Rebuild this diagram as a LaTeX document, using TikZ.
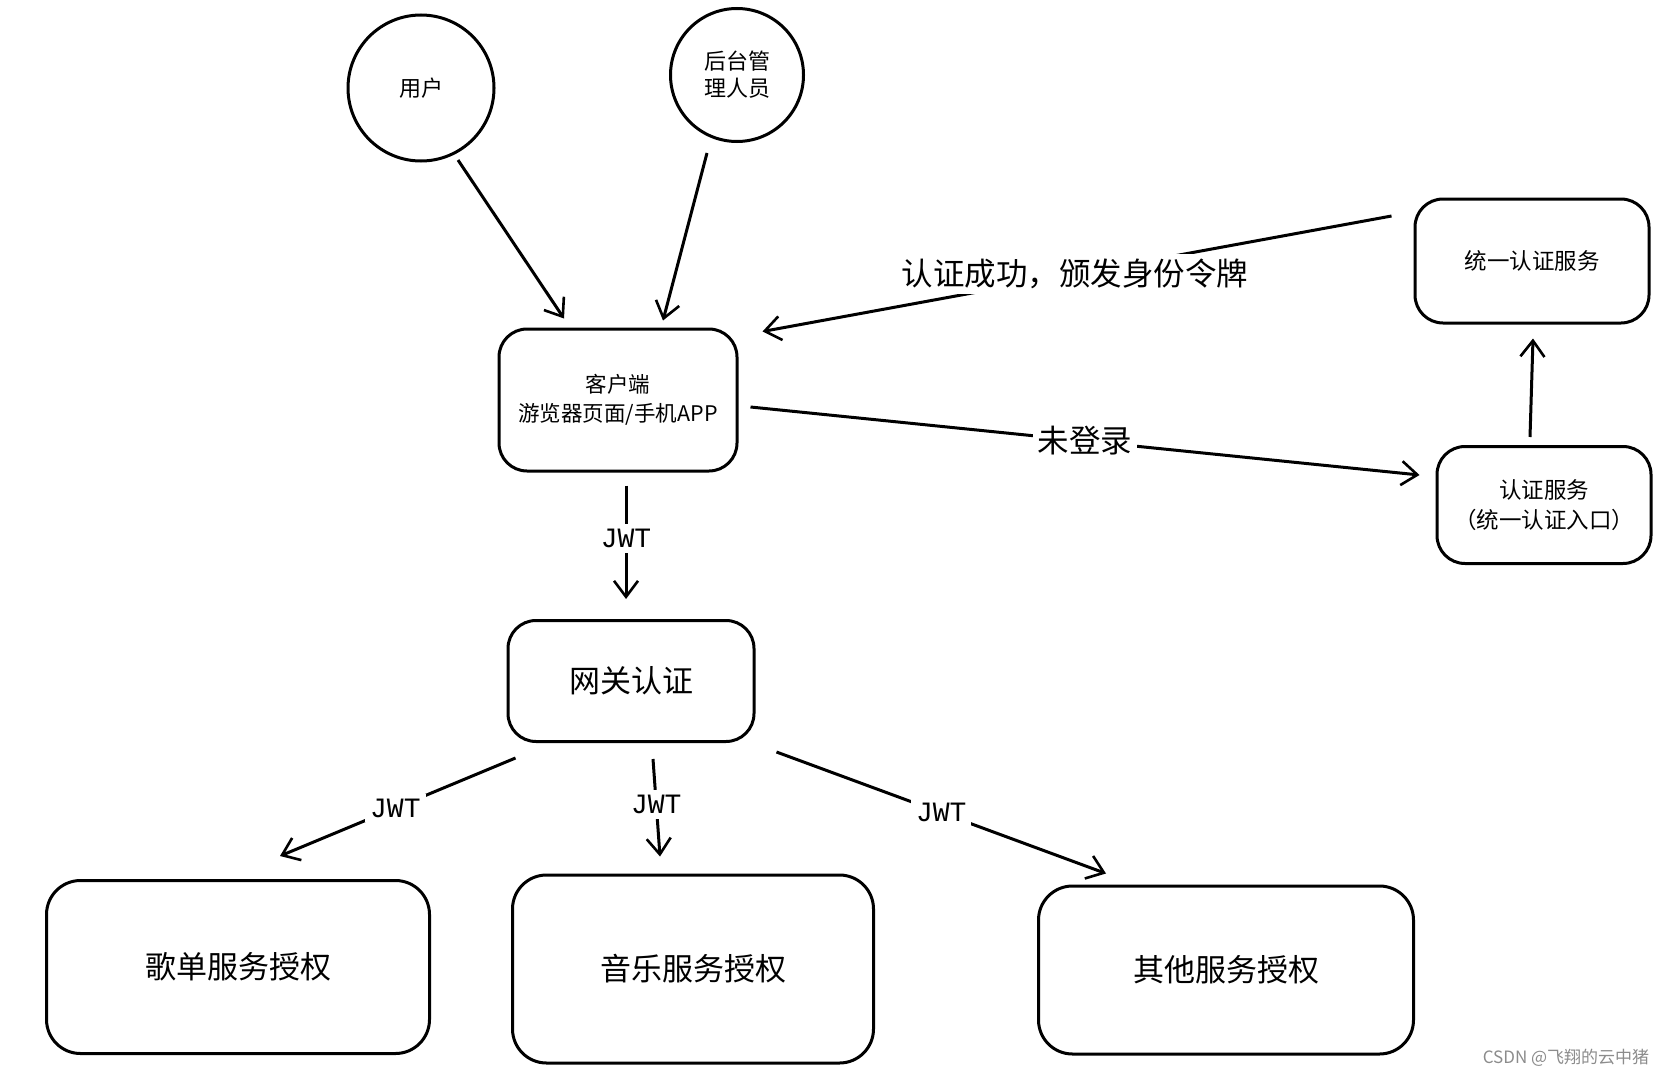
\documentclass[tikz,border=0pt]{standalone}
\usepackage{fontspec}
\newfontfamily\cjk{Noto Sans CJK SC}
\newfontfamily\jwtfont{Liberation Mono}
\usetikzlibrary{arrows.meta,calc}
\begin{document}
\begin{tikzpicture}[x=1pt,y=-1pt,
  every node/.style={font=\cjk},
  circ/.style={draw,line width=3pt,circle,inner sep=0pt,align=center,font=\cjk\fontsize{22}{27}\selectfont},
  box/.style={draw,line width=3pt,rounded corners=28pt,align=center,inner sep=0pt,font=\cjk\fontsize{21.5}{29}\selectfont},
  bigbox/.style={box,rounded corners=34pt,font=\cjk\fontsize{31}{36}\selectfont},
  conn/.style={line width=3pt,-{Straight Barb[length=16pt,width=24pt,line width=2.6pt]}},
  lbl/.style={fill=white,inner sep=5pt,font=\cjk\fontsize{31.5}{36}\selectfont},
  jwt/.style={fill=white,inner sep=5pt,font=\jwtfont\fontsize{28}{30}\selectfont}]
\useasboundingbox[fill=white] (0,0) rectangle (1678,1076);

\node[circ,minimum size=146pt] (user) at (421,88) {用户};
\node[circ,minimum size=133pt] (admin) at (737,75) {后台管\\理人员};
\node[box,minimum width=238pt,minimum height=142pt] (client) at (618,400) {客户端\\游览器页面/手机APP};
\node[box,minimum width=234pt,minimum height=124pt,font=\cjk\fontsize{22.5}{28}\selectfont] (unify) at (1532,261) {统一认证服务};
\node[box,minimum width=214pt,minimum height=117pt,font=\cjk\fontsize{22.5}{30}\selectfont] (auth) at (1544,505) {认证服务\\（统一认证入口）};
\node[box,minimum width=246pt,minimum height=121pt,font=\cjk\fontsize{31}{36}\selectfont] (gw) at (631,681) {网关认证};
\node[bigbox,minimum width=383pt,minimum height=173pt] (song) at (238,967) {歌单服务授权};
\node[bigbox,minimum width=361pt,minimum height=188pt] (music) at (693,969) {音乐服务授权};
\node[bigbox,minimum width=375pt,minimum height=168pt] (other) at (1226,970) {其他服务授权};

\draw[conn] ($(user.center)+(37,72)$) -- ($(client.north)+(-54,-9)$);
\draw[conn] ($(admin.center)+(-30,78)$) -- ($(client.north)+(45,-7)$);
\draw[conn] ($(unify.west)+(-22,-45)$) -- node[lbl,pos=0.503] (l1) {认证成功，颁发身份令牌} ($(client.north east)+(24,4)$);
\draw[conn] ($(client.east)+(12,7)$) -- node[lbl,pos=0.5] (l2) {未登录} ($(auth.west)+(-16,-30)$);
\draw[conn] ($(auth.north)+(-14,-8)$) -- ($(unify.south)+(1,14)$);
\draw[conn] ($(client.south)+(8,13)$) -- node[jwt,pos=0.47] (j0) {JWT} ($(gw.north)+(-5,-20)$);
\draw[conn] ($(gw.south west)+(9,15)$) -- node[jwt,pos=0.51] (j1) {JWT} ($(song.north)+(42,-23)$);
\draw[conn] ($(gw.south)+(22,16)$) -- node[jwt,pos=0.47] (j2) {JWT} ($(music.north)+(-33,-17)$);
\draw[conn] ($(gw.south east)+(21,9)$) -- node[jwt,pos=0.5] (j3) {JWT} ($(other.north west)+(69,-11)$);

\node[text=black!45,font=\cjk\fontsize{17}{20}\selectfont] (wm) at (1566,1058) {CSDN @飞翔的云中猪};
\end{tikzpicture}
\end{document}
